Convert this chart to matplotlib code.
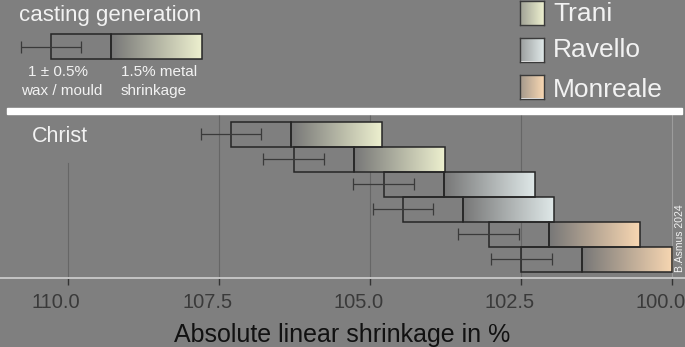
import numpy as np
import matplotlib
matplotlib.use("Agg")
import matplotlib.pyplot as plt
from matplotlib.colors import LinearSegmentedColormap
from matplotlib.patches import Rectangle
from matplotlib.transforms import ScaledTranslation

plt.rcParams['font.family'] = ['Liberation Sans', 'DejaVu Sans']

# ---------------- data ----------------
groups = ['Trani', 'Trani', 'Ravello', 'Ravello', 'Monreale', 'Monreale']
final_size = [104.81, 103.77, 102.28, 101.96, 100.54, 100.0]   # right end of each bar (%)
metal_shrinkage = [1.5, 1.5, 1.5, 1.5, 1.5, 1.5]               # gradient part (%)
wax_mould = [1.0, 1.0, 1.0, 1.0, 1.0, 1.0]                     # outlined box (%)
wax_mould_err = [0.5, 0.5, 0.5, 0.5, 0.5, 0.5]                 # error bar (+/- %)
tick_values = [110.0, 107.5, 105.0, 102.5, 100.0]
tick_labels = ['110.0', '107.5', '105.0', '102.5', '100.0']
legend_names = ['Trani', 'Ravello', 'Monreale']
legend_colors = ['#edf0cf', '#dfe8e8', '#f8d7b2']
# example box in the "casting generation" key
key_final = 107.79
key_metal = 1.5
key_wax = 1.0
key_err = 0.5

BG = '#7f7f7f'
EDGE = '#262626'
GRAD_START = '#777777'

W, H = 685, 347
fig = plt.figure(figsize=(W / 100, H / 100), dpi=100, facecolor=BG)

AX_BOTTOM_PX = 278
ax = fig.add_axes([0, 1 - AX_BOTTOM_PX / H, 1, AX_BOTTOM_PX / H])
ax.patch.set_visible(False)

cmaps = {n: LinearSegmentedColormap.from_list(n, [GRAD_START, c])
         for n, c in zip(legend_names, legend_colors)}
grad = np.linspace(0, 1, 256).reshape(1, -1)


def draw_row(y, r, metal, wax, err, cmap):
    div = r + metal
    left = div + wax
    ax.imshow(grad, extent=(div, r, y + 0.5, y - 0.5), cmap=cmap,
              aspect='auto', interpolation='bilinear', zorder=2)
    ax.add_patch(Rectangle((r, y - 0.5), metal, 1, fill=False, ec=EDGE, lw=1.1, zorder=3))
    ax.add_patch(Rectangle((div, y - 0.5), wax, 1, fill=False, ec=EDGE, lw=1.1, zorder=3))
    ax.errorbar([left], [y], xerr=[err], fmt='none', ecolor='#3a3a3a',
                elinewidth=0.9, capsize=4.3, capthick=0.9, zorder=4)


for i, (g, r, m, w, e) in enumerate(zip(groups, final_size, metal_shrinkage,
                                         wax_mould, wax_mould_err)):
    draw_row(i, r, m, w, e, cmaps[g])

# key example (row above the separator)
draw_row(-3.5, key_final, key_metal, key_wax, key_err, cmaps['Trani'])

# gridlines
for v in tick_values:
    top = 1 - 115 / AX_BOTTOM_PX
    col = '#666666'
    if v == 110.0:
        top = 1 - 163 / AX_BOTTOM_PX
    if v == 100.0:
        col = '#9c9c9c'
    ax.axvline(v, ymin=0, ymax=top, color=col, lw=0.8, zorder=1)

# axis limits (reversed x)
ax.set_xlim(111.13, 99.79)
ax.set_ylim(5.752, -5.368)

for s in ['top', 'left', 'right']:
    ax.spines[s].set_visible(False)
ax.spines['bottom'].set_color('#c4c4c4')
ax.spines['bottom'].set_linewidth(1.4)
ax.set_yticks([])
ax.set_xticks(tick_values)
ax.set_xticklabels(tick_labels)
ax.tick_params(axis='x', direction='out', length=5, width=1, color='#333333',
               labelcolor='#3a3a3a', labelsize=14.5, pad=6)
for lab in ax.get_xticklabels():
    lab.set_transform(lab.get_transform() + ScaledTranslation(-12 / 100, 0, fig.dpi_scale_trans))
ax.set_xlabel('Absolute linear shrinkage in %', fontsize=18, color='#111111', labelpad=8)

# separator bar
fig.patches.append(Rectangle((7 / W, 1 - 114 / H), (682 - 7) / W, 6 / H,
                             transform=fig.transFigure, color='white', zorder=5))


def ftext(x, y, s, **kw):
    return fig.text(x / W, 1 - y / H, s, **kw)


TXT = '#f2f2f2'
ftext(19, 21, 'casting generation', fontsize=16, color=TXT, va='baseline')
ftext(58, 76, '1 ± 0.5%', fontsize=11, color=TXT, va='baseline', ha='center')
ftext(61.5, 95, 'wax / mould', fontsize=11, color=TXT, va='baseline', ha='center')
ftext(120.7, 76, '1.5% metal', fontsize=11, color=TXT, va='baseline')
ftext(120.7, 95, 'shrinkage', fontsize=11, color=TXT, va='baseline')
ftext(31.5, 142.3, 'Christ', fontsize=15.5, color=TXT, va='baseline')
ftext(680, 272, 'B.Asmus 2024', fontsize=7.5, color=TXT, va='bottom', ha='center',
      rotation=90)

# legend swatches
sw_tops = [1, 37.5, 74.5]
text_base = [20.7, 57.3, 96.7]
for name, c, t, b in zip(legend_names, legend_colors, sw_tops, text_base):
    sax = fig.add_axes([520 / W, 1 - (t + 24) / H, 24 / W, 24 / H])
    sax.imshow(np.linspace(0.35, 1, 64).reshape(1, -1), cmap=cmaps[name],
               vmin=0, vmax=1, aspect='auto', interpolation='bilinear')
    sax.set_xticks([])
    sax.set_yticks([])
    for sp in sax.spines.values():
        sp.set_color('#3a3a3a')
        sp.set_linewidth(1.0)
    ftext(553, b, name, fontsize=19, color=TXT, va='baseline')

fig.savefig('out.png', dpi=100, facecolor=BG)
